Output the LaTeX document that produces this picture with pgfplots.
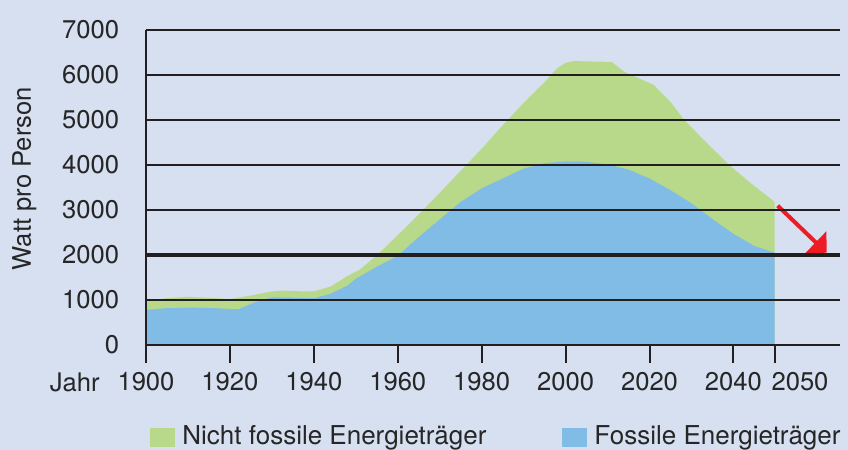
\documentclass[border=0pt]{standalone}
\usepackage{fontspec}
\setmainfont{TeX Gyre Heros}
\usepackage{pgfplots}
\usepackage{pgfplotstable}
\pgfplotsset{compat=1.18}
\usetikzlibrary{arrows.meta}
\definecolor{bg}{RGB}{214,224,241}
\definecolor{cgreen}{RGB}{184,217,138}
\definecolor{cblue}{RGB}{128,188,230}
\definecolor{cred}{RGB}{237,28,36}
\definecolor{gridc}{RGB}{35,31,32}

\pgfplotstableread{
year total
1900 975
1905 1040
1910 1070
1915 1050
1920 1020
1925 1100
1930 1190
1933 1210
1936 1195
1940 1190
1944 1300
1948 1530
1951 1680
1955 1990
1960 2440
1965 2900
1970 3380
1975 3870
1980 4360
1985 4880
1990 5380
1995 5840
1998 6150
2000 6270
2002 6310
2011 6290
2014 6070
2021 5780
2025 5400
2028.3 5000
2033 4550
2039 4000
2044.6 3560
2049.8 3185
}\totaldata

\pgfplotstableread{
year fossil
1900 780
1905 820
1910 830
1915 825
1920 800
1922 795
1926 950
1930 1060
1935 1050
1940 1040
1944 1140
1948 1320
1950 1470
1955 1740
1960 1980
1965 2400
1970 2790
1975 3180
1980 3480
1985 3700
1990 3920
1995 4040
2000 4080
2005 4070
2010 4010
2015 3900
2020 3700
2025 3440
2030 3150
2035 2800
2040 2470
2045 2200
2049.8 2050
}\fossildata

\begin{document}
\fontsize{12.8}{15}\selectfont
\begin{tikzpicture}
\useasboundingbox (-73pt,-52.5pt) rectangle (351pt,172.5pt);
\fill[bg] (-73pt,-52.5pt) rectangle (351pt,172.5pt);
\begin{axis}[
  at={(0pt,0pt)}, anchor=south west,
  scale only axis, width=347pt, height=157.5pt,
  xmin=1900, xmax=2065.4, ymin=0, ymax=7000,
  axis on top,
  axis x line*=bottom, axis y line*=left,
  axis line style={line width=1pt, color=gridc, -},
  xtick={1900,1920,1940,1960,1980,2000,2020,2040,2049.8},
  xticklabels={1900,1920,1940,1960,1980,2000,2020,2040,\makebox[0pt][l]{\hspace*{-1.5pt}2050}},
  ytick={0,1000,...,7000},
  ymajorgrids, grid style={line width=0.85pt, color=gridc},
  extra y ticks={2000}, extra y tick labels={},
  extra y tick style={grid style={line width=2pt, color=gridc}},
  tick align=outside, major tick length=9pt,
  xtick style={line width=1pt, color=gridc},
  ytick style={draw=none},
  scaled ticks=false,
  /pgf/number format/1000 sep={},
  /pgf/number format/assume math mode=true,
  tick label style={font=\fontsize{12.8}{15}\selectfont, text=black!85},
  legend style={at={(0,0)}, anchor=west, xshift=2pt, yshift=-46pt,
    draw=none, fill=none, inner sep=0pt, legend columns=2,
    font=\fontsize{13}{15}\selectfont, text=black!85,
    /tikz/every odd column/.append style={column sep=1.5pt},
    /tikz/every even column/.append style={column sep=36pt}},
  legend image code/.code={\fill[#1] (0pt,-4.75pt) rectangle (12.5pt,4.75pt);},
]
\addplot[fill=cgreen, draw=none] table[x=year, y=total] {\totaldata} \closedcycle;
\addlegendentry{Nicht fossile Energieträger}
\addplot[fill=cblue, draw=none] table[x=year, y=fossil] {\fossildata} \closedcycle;
\addlegendentry{Fossile Energieträger}
\draw[cred, line width=2pt, -{Triangle[length=7.5pt,width=15pt]}] (axis cs:2050.55,3096) -- (axis cs:2062.2,2051);
\end{axis}
\node[anchor=base east, inner sep=0pt, text=black!85] at (-23pt,-23.35pt) {Jahr};
\node[rotate=90, anchor=base, inner sep=0pt, text=black!85] at (-57.6pt,83.2pt) {Watt pro Person};
\end{tikzpicture}
\end{document}
